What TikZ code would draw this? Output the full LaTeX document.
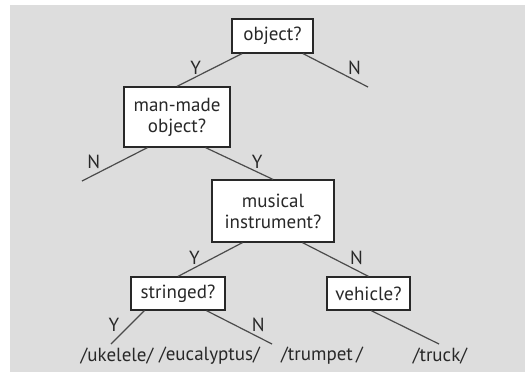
\documentclass[tikz,border=0pt]{standalone}
\usepackage{fontspec}
\setmainfont{PT Sans}
\usetikzlibrary{positioning}
\usepackage{xcolor}
\definecolor{bggray}{RGB}{221,221,221}
\definecolor{inkgray}{RGB}{40,40,40}
\definecolor{linegray}{RGB}{75,75,75}

\begin{document}
\begin{tikzpicture}[
            x=0.5pt, y=-0.5pt,
            font=\fontsize{9.5}{10.5}\selectfont,
            qbox/.style={rectangle, draw=inkgray, fill=white, line width=0.6pt, align=center, inner sep=2pt, text=inkgray},
            branch/.style={draw=linegray, line width=0.6pt},
            lab/.style={inner sep=1pt, text=inkgray, yshift=1pt},
            leaf/.style={inner sep=0.5pt, text=inkgray}
        ]
            % --- BACKGROUND ---
            \useasboundingbox (0,0) rectangle (525,372);
            \fill[bggray] (10,5) rectangle (525,372);

            % --- QUESTIONS ---
            \node[qbox, minimum width=40.5pt, minimum height=17pt] (object) at (272.5,36) {object?};
            \node[qbox, minimum width=53pt, minimum height=30pt] (manmade) at (177,117) {man-made\\object?};
            \node[qbox, minimum width=61pt, minimum height=31pt] (musical) at (273,211) {musical\\instrument?};
            \node[qbox, minimum width=47pt, minimum height=16.5pt] (stringed) at (178,293.5) {stringed?};
            \node[qbox, minimum width=41.5pt, minimum height=16.5pt] (vehicle) at (368.5,293.5) {vehicle?};

            % --- OPEN ENDS ---
            \coordinate (objectN) at (368,87);
            \coordinate (manmadeN) at (82,181);
            \coordinate (stringedY) at (111,344);
            \coordinate (stringedN) at (272,344);
            \coordinate (vehicleend) at (439,344);

            % --- WORDS ---
            \node[leaf] (ukelele) at (117,356) {/ukelele/};
            \node[leaf, right=1.5pt of ukelele] (eucalyptus) {/eucalyptus/};
            \node[leaf] (trumpet) at (322,356) {/trumpet\,/};
            \node[leaf] (truck) at (440,356) {/truck/};

            % --- BRANCHES ---
            \draw[branch] (object.210) -- node[lab, midway, left=3pt] {Y} (manmade.north);
            \draw[branch] (object.330) -- node[lab, midway, right=5pt] {N} (objectN);
            \draw[branch] (manmade.226) -- node[lab, midway, left=6pt] {N} (manmadeN);
            \draw[branch] (manmade.313) -- node[lab, midway, right=5pt] {Y} (musical.north);
            \draw[branch] (musical.226) -- node[lab, midway, left=4pt] {Y} (stringed.north);
            \draw[branch] (musical.313) -- node[lab, midway, right=6pt] {N} (vehicle.north);
            \draw[branch] (stringed.207) -- node[lab, midway, left=3pt] {Y} (stringedY);
            \draw[branch] (stringed.329) -- node[lab, midway, right=5pt] {N} (stringedN);
            \draw[branch] (vehicle.279) -- (vehicleend);

        \end{tikzpicture}
\end{document}
